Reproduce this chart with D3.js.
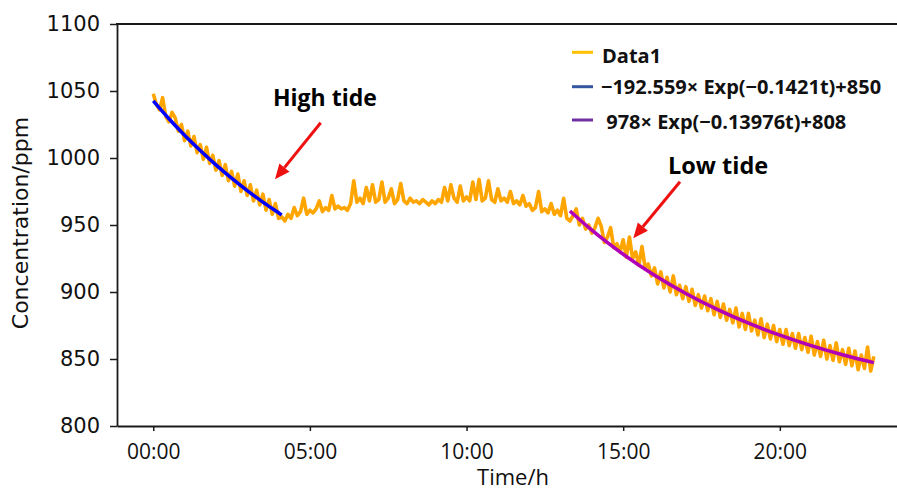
<!DOCTYPE html>
<html>
<head>
<meta charset="utf-8">
<script src="https://cdn.jsdelivr.net/npm/d3@7/dist/d3.min.js"></script>
<style>
  html, body { margin: 0; padding: 0; background: #fff; }
  svg { display: block; }
</style>
</head>
<body>
<div id="chart"></div>
<script>
// Sensor record: CO2 concentration sampled every 0.1 h
const sampleStart = 0;
const sampleStep = 0.1;
const concentration = [
  1048,1040,1036,1045,1031,1027,1034,1030,1020,1025,
  1013,1020,1009,1016,1004,1010,999,1008,996,1002,
  991,998,987,995,983,990,979,988,975,983,
  972,980,968,976,965,973,961,969,958,966,
  955,956,953,958,955,963,957,960,970,958,
  961,959,962,968,960,963,961,972,962,964,
  962,963,961,966,983,967,970,966,978,968,
  980,967,969,982,967,970,977,966,969,981,
  968,966,970,967,968,966,969,967,965,968,
  966,969,967,978,968,980,970,967,979,968,
  971,968,982,969,984,968,970,983,969,967,
  977,968,970,967,975,966,968,965,972,964,
  966,961,963,975,960,962,959,966,958,961,
  957,970,955,953,957,962,950,955,947,950,
  944,948,955,949,937,941,948,933,936,930,
  939,926,941,925,930,920,934,918,921,912,
  918,906,915,903,911,900,912,898,905,895,
  904,893,902,890,898,888,897,886,895,883,
  893,881,891,879,887,877,888,874,884,872,
  884,871,879,868,880,866,876,865,875,863,
  872,861,872,860,869,858,869,857,866,855,
  867,853,863,852,864,850,860,849,862,848,
  857,846,858,845,856,842,853,843,859,841,
  852
];

// Fitted decay curves (high tide / low tide)
const highFitT = [0, 0.5, 1, 1.5, 2, 2.5, 3, 3.5, 4, 4.1];
const highFitC = [1042.6, 1029.3, 1017.0, 1005.6, 994.9, 985.0, 975.7, 967.1, 959.1, 957.5];
const lowFitT = [13.3, 14, 15, 16, 17, 18, 19, 20, 21, 22, 23];
const lowFitC = [960.5, 946.2, 928.2, 912.5, 898.9, 887.0, 876.7, 867.8, 860.0, 853.2, 847.3];

// Axis ticks
const yTicks = [800, 850, 900, 950, 1000, 1050, 1100];
const xTicks = [0, 5, 10, 15, 20];
const xTickLabels = ["00:00", "05:00", "10:00", "15:00", "20:00"];

// Legend entries
const legendLabels = ["Data1", "\u2212192.559\u00d7 Exp(\u22120.1421t)+850", " 978\u00d7 Exp(\u22120.13976t)+808"];
const legendColors = ["#FFC000", "#3556A0", "#7030A0"];

const W = 897, H = 493;
const plot = { left: 117, right: 897, top: 24, bottom: 426 };

const svg = d3.select("#chart").append("svg")
  .attr("width", W).attr("height", H);

const x = d3.scaleLinear().domain([-1.157, 23.74]).range([plot.left, plot.right]);
const y = d3.scaleLinear().domain([800, 1100]).range([plot.bottom, plot.top]);

const series = concentration.map((c, i) => ({ t: sampleStart + i * sampleStep, c }));

// Data line
svg.append("path")
  .datum(series)
  .attr("fill", "none")
  .attr("stroke", "#FFA500")
  .attr("stroke-width", 3.6)
  .attr("stroke-linejoin", "round")
  .attr("d", d3.line().x(d => x(d.t)).y(d => y(d.c)));

// Fit curves
const fitLine = d3.line().x(d => x(d[0])).y(d => y(d[1])).curve(d3.curveMonotoneX);
svg.append("path")
  .datum(d3.zip(highFitT, highFitC))
  .attr("fill", "none").attr("stroke", "#0000FF").attr("stroke-width", 3.5)
  .attr("d", fitLine);
svg.append("path")
  .datum(d3.zip(lowFitT, lowFitC))
  .attr("fill", "none").attr("stroke", "#B000B8").attr("stroke-width", 3.5)
  .attr("d", fitLine);

// Axes
const yAxis = svg.append("g")
  .attr("transform", `translate(${plot.left},0)`)
  .call(d3.axisLeft(y).tickValues(yTicks).tickSize(7).tickSizeOuter(0).tickPadding(10)
    .tickFormat(d3.format("d")));
yAxis.selectAll("text")
  .attr("font-family", "DejaVu Sans").attr("font-size", 21).attr("fill", "#111");

const xAxis = svg.append("g")
  .attr("transform", `translate(0,${plot.bottom})`)
  .call(d3.axisBottom(x).tickValues(xTicks).tickSize(5).tickSizeOuter(0).tickPadding(13)
    .tickFormat((d, i) => xTickLabels[i]));
xAxis.selectAll("text")
  .attr("font-family", "Open Sans").attr("font-size", 21).attr("fill", "#111");

svg.selectAll(".domain").attr("stroke", "#1a1a1a").attr("stroke-width", 1.8);
svg.selectAll(".tick line").attr("stroke", "#1a1a1a").attr("stroke-width", 1.5);

// Top frame line
svg.append("line")
  .attr("x1", plot.left - 1).attr("x2", plot.right)
  .attr("y1", plot.top).attr("y2", plot.top)
  .attr("stroke", "#1a1a1a").attr("stroke-width", 1.8);

// Axis titles
svg.append("text")
  .attr("transform", "translate(28,223) rotate(-90)")
  .attr("text-anchor", "middle")
  .attr("font-family", "DejaVu Sans").attr("font-size", 22).attr("fill", "#111")
  .text("Concentration/ppm");
svg.append("text")
  .attr("x", 513).attr("y", 485)
  .attr("text-anchor", "middle")
  .attr("font-family", "Open Sans").attr("font-size", 22).attr("fill", "#111")
  .text("Time/h");

// Legend
const legendRowY = [52.3, 86.7, 120];
const legendTextY = [63.3, 94, 129.3];
const legendTextX = [602, 601, 601];
const legend = svg.append("g");
legendLabels.forEach((lab, i) => {
  legend.append("line")
    .attr("x1", 572).attr("x2", 593)
    .attr("y1", legendRowY[i]).attr("y2", legendRowY[i])
    .attr("stroke", legendColors[i]).attr("stroke-width", 3);
  legend.append("text")
    .attr("x", legendTextX[i]).attr("y", legendTextY[i])
    .attr("xml:space", "preserve")
    .attr("font-family", "Open Sans").attr("font-weight", 700)
    .attr("font-size", 20).attr("fill", "#111")
    .text(lab);
});

// Annotations with arrows
function arrow(x1, y1, x2, y2) {
  const ang = Math.atan2(y2 - y1, x2 - x1);
  const len = 15, half = 6.5;
  const bx = x2 - len * Math.cos(ang), by = y2 - len * Math.sin(ang);
  svg.append("line")
    .attr("x1", x1).attr("y1", y1).attr("x2", bx).attr("y2", by)
    .attr("stroke", "#EE1111").attr("stroke-width", 3);
  const px = -Math.sin(ang) * half, py = Math.cos(ang) * half;
  svg.append("path")
    .attr("d", `M${x2},${y2}L${bx + px},${by + py}L${bx - px},${by - py}Z`)
    .attr("fill", "#EE1111");
}
svg.append("text")
  .attr("x", 273).attr("y", 106)
  .attr("font-family", "Open Sans").attr("font-weight", 700).attr("font-size", 23).attr("fill", "#000")
  .text("High tide");
arrow(320.7, 122.7, 275, 179.3);
svg.append("text")
  .attr("x", 668).attr("y", 174)
  .attr("font-family", "Open Sans").attr("font-weight", 700).attr("font-size", 23.5).attr("fill", "#000")
  .text("Low tide");
arrow(680, 181.7, 633.3, 238.3);
</script>
</body>
</html>
